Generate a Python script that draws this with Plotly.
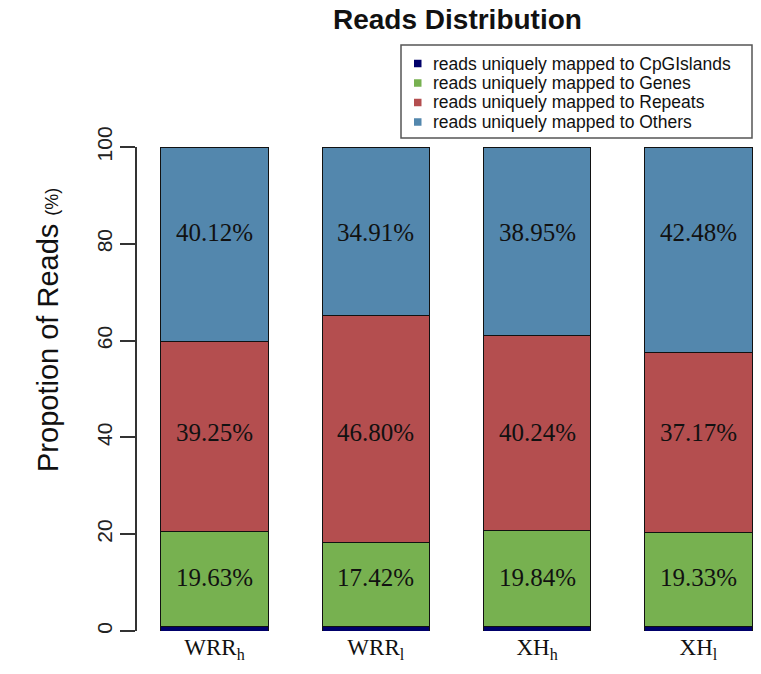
import plotly.graph_objects as go

samples = ["WRR<sub>h</sub>", "WRR<sub>l</sub>", "XH<sub>h</sub>", "XH<sub>l</sub>"]
cpg = [1.00, 0.87, 0.97, 1.02]
genes = [19.63, 17.42, 19.84, 19.33]
repeats = [39.25, 46.80, 40.24, 37.17]
others = [40.12, 34.91, 38.95, 42.48]
series_names = [
    "reads uniquely mapped to CpGIslands",
    "reads uniquely mapped to Genes",
    "reads uniquely mapped to Repeats",
    "reads uniquely mapped to Others",
]
colors = ["#00006a", "#77b150", "#b44e4f", "#5387ad"]
label_levels = [11, 41, 82.4]  # y rows of the percentage labels (genes, repeats, others)
yticks = [0, 20, 40, 60, 80, 100]

W, H = 761, 674
ML, MR, MT, MB = 137, 0, 147, 43
PW, PH = W - ML - MR, H - MT - MB


def px_x(p):
    return (p - ML) / PW


def px_y(p):
    return (H - MB - p) / PH


xpos = list(range(len(samples)))
fig = go.Figure()
for name, vals, col in zip(series_names, [cpg, genes, repeats, others], colors):
    fig.add_trace(go.Bar(
        x=xpos, y=vals, name=name, width=0.665, showlegend=False,
        marker=dict(color=col, line=dict(color="#111111", width=1)),
        hoverinfo="skip",
    ))

for vals, lvl in zip([genes, repeats, others], label_levels):
    for xi, v in zip(xpos, vals):
        fig.add_annotation(x=xi, y=lvl, xref="x", yref="y", text=f"{v:.2f}%",
                           showarrow=False,
                           font=dict(family="Liberation Serif", size=25, color="#111111"))

# title
fig.add_annotation(xref="paper", yref="paper", x=px_x(457), y=px_y(19.5),
                   xanchor="center", yanchor="middle", borderpad=0,
                   text="<b>Reads Distribution</b>", showarrow=False,
                   font=dict(family="Liberation Sans", size=28, color="#111111"))

fig.add_annotation(xref="paper", yref="paper", x=px_x(30), y=px_y(330),
                   text="Propotion of Reads <span style='font-size:18px'>(%)</span>",
                   textangle=-90, showarrow=False,
                   font=dict(family="Liberation Sans", size=29, color="#111111"))

# legend box drawn by hand (R-style compact legend)
fig.add_shape(type="rect", xref="paper", yref="paper",
              x0=px_x(401), x1=px_x(752), y0=px_y(138), y1=px_y(45),
              line=dict(color="#555555", width=1.5), fillcolor="white")
row_y = [63.5, 83, 102.5, 122]
for name, col, ry in zip(series_names, colors, row_y):
    fig.add_shape(type="rect", xref="paper", yref="paper",
                  x0=px_x(414), x1=px_x(421.5), y0=px_y(ry + 3.75), y1=px_y(ry - 3.75),
                  line=dict(width=0), fillcolor=col)
    fig.add_annotation(xref="paper", yref="paper", x=px_x(432), y=px_y(ry),
                       xanchor="left", yanchor="middle", text=name, showarrow=False,
                       borderpad=0,
                       font=dict(family="Liberation Sans", size=17.5, color="#111111"))

fig.update_layout(
    width=W, height=H,
    margin=dict(l=ML, r=MR, t=MT, b=MB),
    paper_bgcolor="white", plot_bgcolor="white",
    barmode="stack",
    showlegend=False,
)
fig.update_xaxes(range=[-0.4805, 3.388], tickmode="array", tickvals=xpos, ticktext=samples,
                 showline=False, showgrid=False, zeroline=False, ticks="",
                 tickfont=dict(family="Liberation Serif", size=23, color="#111111"))
fig.update_yaxes(range=[0, 100], tickmode="array", tickvals=yticks,
                 showline=True, linecolor="#333333", linewidth=1.5,
                 ticks="outside", ticklen=15, tickcolor="#333333", tickwidth=1.5,
                 tickangle=-90, showgrid=False, zeroline=False,
                 tickfont=dict(family="Liberation Sans", size=21, color="#222222"))

fig.write_html("out.html", config={"displayModeBar": False},
               post_script="document.body.style.margin='0';document.body.style.overflow='hidden';")
